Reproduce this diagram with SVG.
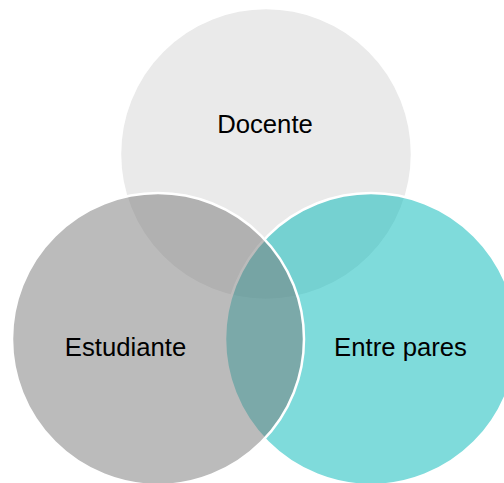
<svg xmlns="http://www.w3.org/2000/svg" width="504" height="483" viewBox="0 0 504 483">
<style>
.c{stroke:#FFFFFF;stroke-width:2.5;}
.t{font-family:"Liberation Sans",Arial,sans-serif;font-size:25.7px;fill:#000000;text-anchor:middle;}
</style>
<rect width="504" height="483" fill="#FFFFFF"/>
<g id="docente">
<circle class="c" cx="266" cy="154" r="146" fill="rgb(213,213,213)" fill-opacity="0.5"/>
</g>
<g id="entre-pares">
<circle class="c" cx="371" cy="339" r="146" fill="rgb(0,183,183)" fill-opacity="0.5"/>
</g>
<g id="estudiante">
<circle class="c" cx="158" cy="339" r="146" fill="rgb(119,119,119)" fill-opacity="0.5"/>
</g>
<g id="labels">
<text class="t" x="265" y="133">Docente</text>
<text class="t" x="125.5" y="356">Estudiante</text>
<text class="t" x="400.5" y="356">Entre pares</text>
</g>
<g id="connectors"/>
</svg>
